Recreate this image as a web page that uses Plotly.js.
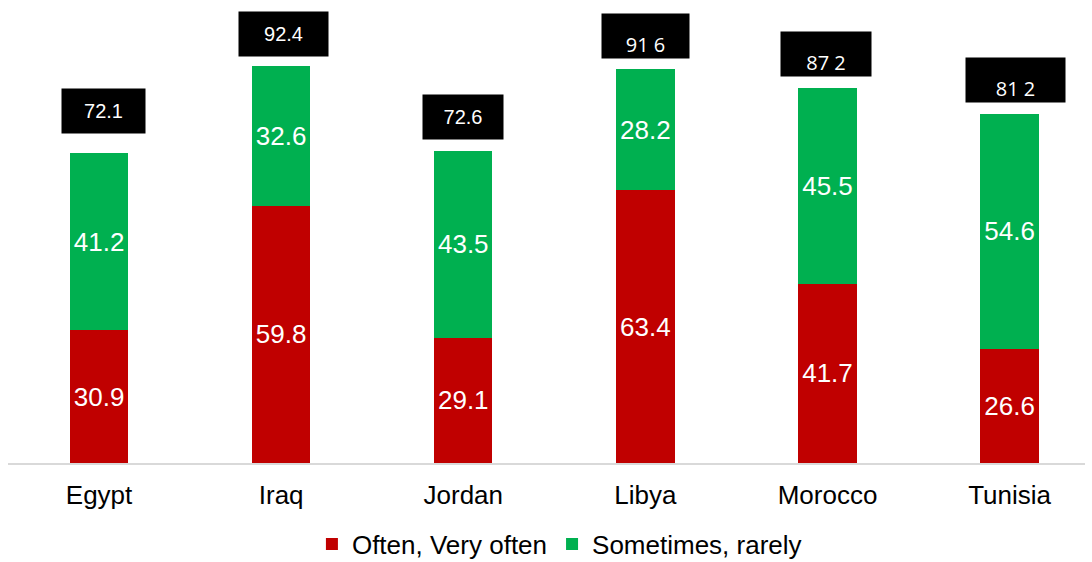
<!DOCTYPE html>
<html>
<head>
<meta charset="utf-8">
<script src="https://cdn.plot.ly/plotly-3.0.1.min.js"></script>
<style>html,body{margin:0;padding:0;background:#fff;}#chart{width:1092px;height:562px;}</style>
</head>
<body>
<div id="chart"></div>
<script>
const countries = ["Egypt", "Iraq", "Jordan", "Libya", "Morocco", "Tunisia"];
const oftenValues = [30.9, 59.8, 29.1, 63.4, 41.7, 26.6];
const sometimesValues = [41.2, 32.6, 43.5, 28.2, 45.5, 54.6];
const totalValues = [72.1, 92.4, 72.6, 91.6, 87.2, 81.2];
const totalLabels = ["72.1", "92.4", "72.6", "91 6", "87 2", "81 2"];
const seriesNames = ["Often, Very often", "Sometimes, rarely"];

// styling of the total boxes (not data)
const boxGap = [19, 9, 11, 10, 11, 11];
const boxFont = ["Liberation Sans", "Liberation Sans", "Liberation Sans", "Open Sans", "Open Sans", "Open Sans"];
const boxValign = ["middle", "middle", "middle", "bottom", "bottom", "bottom"];
const boxXShift = [4, 2, 0, 0, -2, 6];
const boxWidth = [83, 89, 80, 87, 90, 99];

const segText = { family: "Liberation Sans, Arial, sans-serif", size: 26, color: "#ffffff" };

const traces = [
  {
    type: "bar", name: seriesNames[0], x: countries, y: oftenValues,
    marker: { color: "#C00000" }, width: 0.32,
    text: oftenValues.map(v => v.toFixed(1)), textposition: "inside",
    insidetextanchor: "middle", textangle: 0, textfont: segText,
    constraintext: "none", hoverinfo: "none"
  },
  {
    type: "bar", name: seriesNames[1], x: countries, y: sometimesValues,
    marker: { color: "#00B050" }, width: 0.32,
    text: sometimesValues.map(v => v.toFixed(1)), textposition: "inside",
    insidetextanchor: "middle", textangle: 0, textfont: segText,
    constraintext: "none", hoverinfo: "none"
  }
];

const annotations = countries.map((c, i) => ({
  x: c, y: totalValues[i], xref: "x", yref: "y",
  text: totalLabels[i], showarrow: false,
  xanchor: "center", yanchor: "bottom",
  yshift: boxGap[i], xshift: boxXShift[i],
  bgcolor: "#000000", borderpad: 0,
  width: boxWidth[i], height: 44, valign: boxValign[i], align: "center",
  font: { family: boxFont[i], size: 20, color: "#ffffff" }
}));

const layout = {
  width: 1092, height: 562,
  margin: { l: 8, r: 7, t: 0, b: 99 },
  paper_bgcolor: "#ffffff", plot_bgcolor: "#ffffff",
  barmode: "stack",
  showlegend: true,
  legend: {
    orientation: "h", x: 0.512, xanchor: "center",
    yref: "container", y: 0.032, yanchor: "middle",
    font: { family: "Liberation Sans, Arial, sans-serif", size: 26, color: "#000000" },
    itemwidth: 30, traceorder: "normal"
  },
  xaxis: {
    type: "category", range: [-0.5, 5.414], automargin: false,
    showline: true, linecolor: "#d9d9d9", linewidth: 2,
    ticks: "", showgrid: false, zeroline: false,
    tickfont: { family: "Liberation Sans, Arial, sans-serif", size: 26, color: "#000000" },
    ticklabelstandoff: 8
  },
  yaxis: {
    range: [0, 107.67], visible: false, showgrid: false, zeroline: false, automargin: false
  },
  annotations: annotations,
  font: { family: "Liberation Sans, Arial, sans-serif" }
};

Plotly.newPlot("chart", traces, layout, { displayModeBar: false, staticPlot: true });
</script>
</body>
</html>
